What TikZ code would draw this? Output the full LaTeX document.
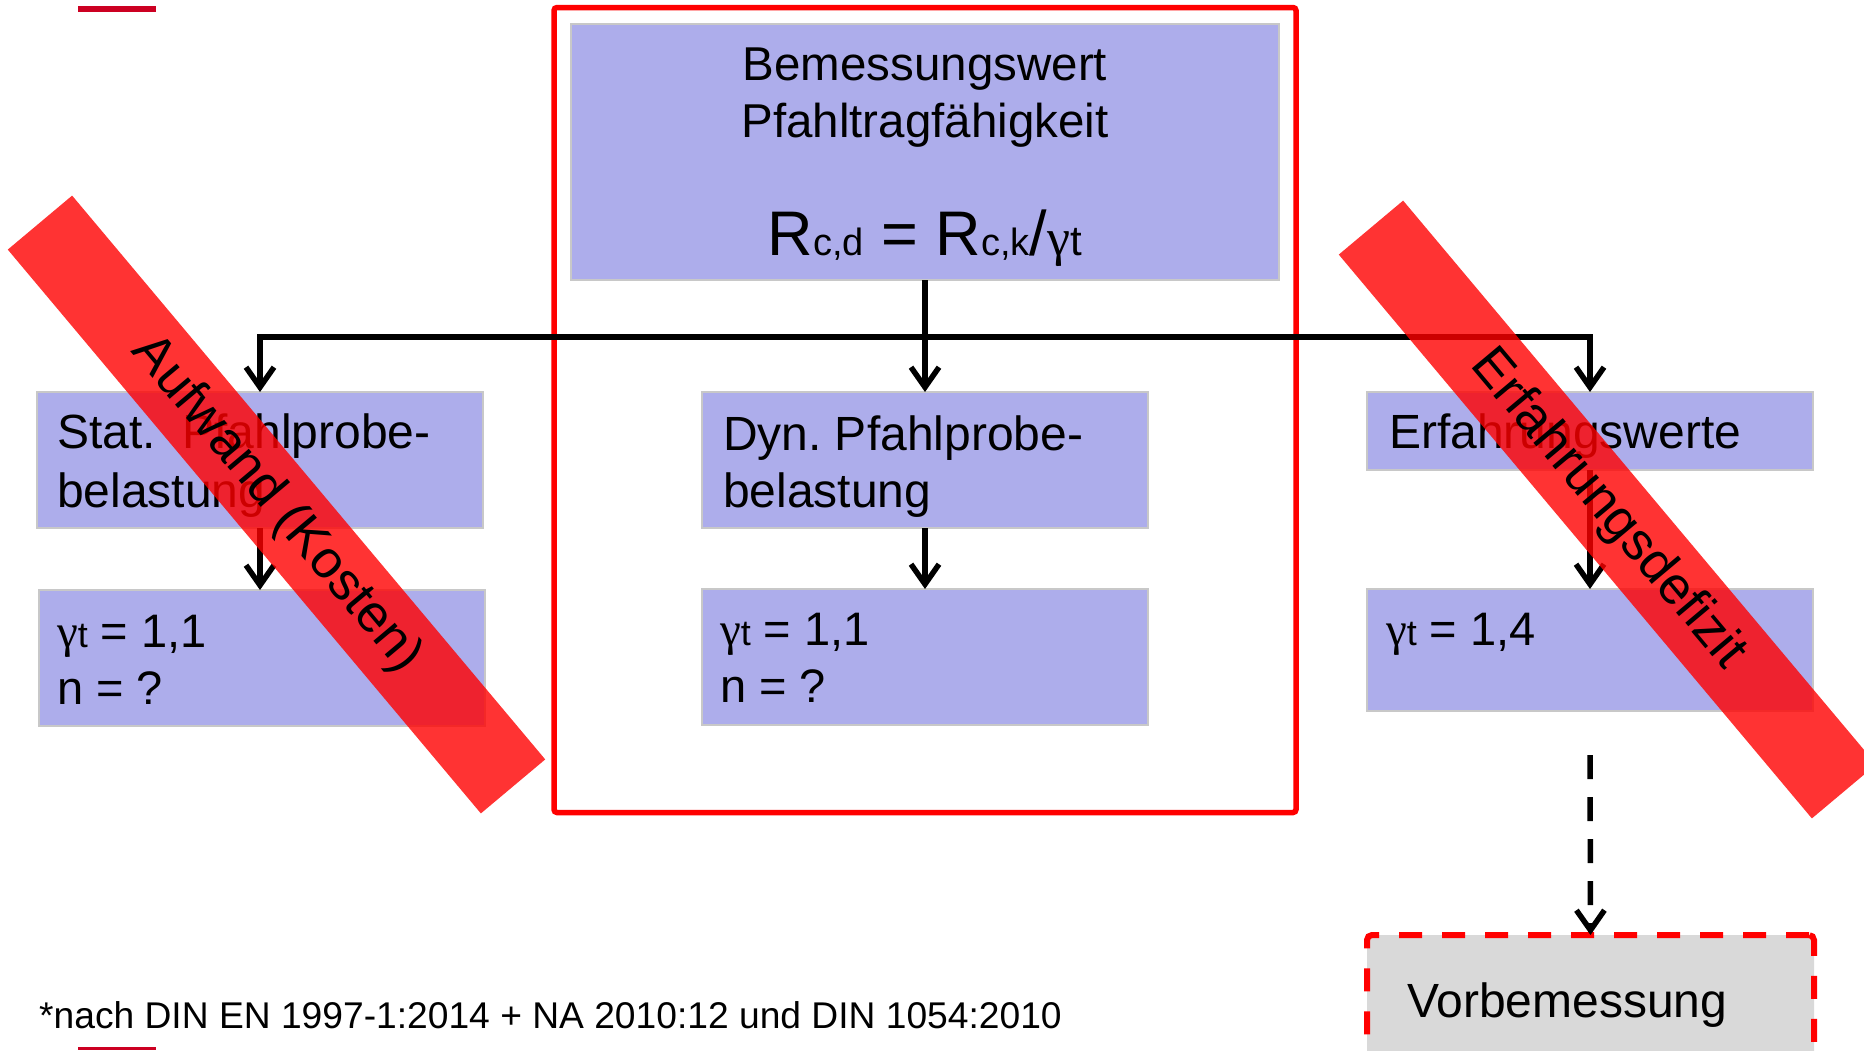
\documentclass[tikz,border=0pt]{standalone}
\usepackage{fontspec}
\setmainfont{Liberation Sans}
\newfontfamily\grk{Liberation Serif}
\usetikzlibrary{arrows.meta}
\definecolor{boxblue}{RGB}{173,173,235}
\definecolor{boxedge}{RGB}{200,200,200}
\definecolor{vgrey}{RGB}{217,217,217}
\definecolor{tickred}{RGB}{204,0,34}
\newcommand\fsz[1]{\fontsize{#1}{#1}\selectfont}
\frenchspacing
\begin{document}
\begin{tikzpicture}[x=1pt,y=-1pt,
  bluebox/.style={rectangle,draw=boxedge,line width=1.5pt,fill=boxblue,inner sep=0pt,outer sep=0pt},
  lbl/.style={anchor=base west,inner sep=0pt,outer sep=0pt,font=\fsz{48}},
  glbl/.style={anchor=base west,inner sep=0pt,outer sep=0pt,font=\fsz{47}},
  conn/.style={line width=5.5pt,-{Straight Barb[length=20pt,width=28pt]}},
  band/.style={rectangle,fill=red,fill opacity=0.8,text opacity=1,draw=none,rotate=-50,
     minimum width=736pt,minimum height=84pt,inner sep=0pt,font=\fsz{53}},
]
\useasboundingbox (0,0) rectangle (1864,1050);
% small red ticks
\fill[tickred] (78,5.5) rectangle (156,11.5);
\fill[tickred] (78,1047) rectangle (156,1050);
% boxes
\node[bluebox,minimum width=708pt,minimum height=256pt] (top) at (925,152) {};
\node[bluebox,minimum width=446pt,minimum height=136pt] (stat) at (260,460) {};
\node[bluebox,minimum width=446pt,minimum height=136pt] (g1) at (262,658) {};
\node[bluebox,minimum width=446pt,minimum height=136pt] (dyn) at (925,460) {};
\node[bluebox,minimum width=446pt,minimum height=136pt] (g2) at (925,657) {};
\node[bluebox,minimum width=446pt,minimum height=78pt] (erf) at (1590,431) {};
\node[bluebox,minimum width=446pt,minimum height=122pt] (g3) at (1590,650) {};
\node[rectangle,draw=red,fill=vgrey,line width=6pt,dash pattern=on 23pt off 20pt,rounded corners=5pt,
  inner sep=0pt,outer sep=0pt,minimum width=447pt,minimum height=150pt] (vorb) at (1590.5,1010) {};
% red frame
\draw[red,line width=5.5pt,rounded corners=3pt] (554,7.5) rectangle (1296,812.5);
% texts
\node[anchor=base,inner sep=0pt,font=\fsz{47.5}] (t0a) at (925,80) {Bemessungswert};
\node[anchor=base,inner sep=0pt,font=\fsz{47.5}] (t0b) at (925,137) {Pfahltragfähigkeit};
\node[anchor=base,inner sep=0pt] (form) at (925,255)
  {\fsz{63}R\fsz{38}c,d\fsz{63} = R\fsz{38}c,k\fsz{63}/{\grk\fsz{52}γ}\fsz{42}t};
\node[lbl] (t1a) at (57,448) {Stat.~~Pfahlprobe-};
\node[lbl] (t1b) at (57,507) {belastung};
\node[glbl] (t2a) at (57,647) {{\grk γ}{\fsz{36}t} = 1,1};
\node[glbl] (t2b) at (57,704) {n = ?};
\node[lbl] (t3a) at (723,450) {Dyn. Pfahlprobe-};
\node[lbl] (t3b) at (723,507) {belastung};
\node[glbl] (t4a) at (720,645) {{\grk γ}{\fsz{36}t} = 1,1};
\node[glbl] (t4b) at (720,702) {n = ?};
\node[lbl] (t5) at (1389,448) {Erfahrungswerte};
\node[glbl] (t6) at (1386,645) {{\grk γ}{\fsz{36}t} = 1,4};
\node[lbl] (t7) at (1407,1017) {Vorbemessung};
\node[anchor=base west,inner sep=0pt,font=\fsz{37.2}] (foot) at (39,1028)
  {*nach DIN EN 1997-1:2014 + NA 2010:12 und DIN 1054:2010};
% connectors
\coordinate (split) at (925,337);
\draw[conn] (top.south) -- (dyn.north);
\draw[conn] (split) -| (stat.north);
\draw[conn] (split) -| (erf.north);
\draw[conn] (stat.south) -- (stat.south |- g1.north);
\draw[conn] (dyn.south) -- (g2.north);
\draw[conn] (erf.south) -- (g3.north);
\coordinate (dstart) at (1590,755);
\draw[conn,dash pattern=on 24pt off 18pt] (dstart) -- (vorb.north);
% crossing bands
\node[band] (b1) at (276.5,504.5) {Aufwand (Kosten)};
\node[band] (b2) at (1607.5,509.5) {Erfahrungsdefizit};
\end{tikzpicture}
\end{document}
